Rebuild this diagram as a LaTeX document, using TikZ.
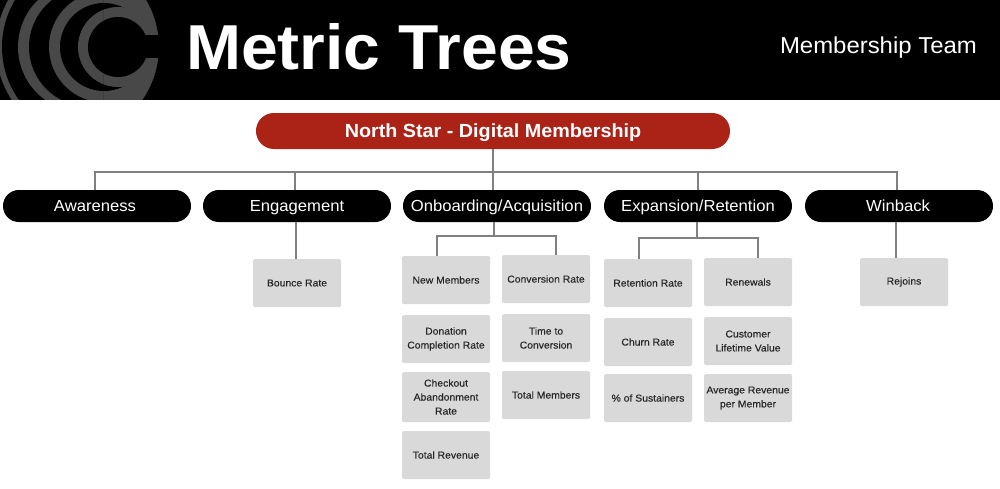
\documentclass[tikz,border=0pt]{standalone}
\usepackage{fontspec}
\setmainfont[FakeStretch=1.04]{Liberation Sans}
\newfontfamily\medfont[FakeStretch=1.04,FakeBold=0.25]{Liberation Sans}
\definecolor{logo}{HTML}{484848}
\definecolor{star}{HTML}{AB2217}
\definecolor{cell}{HTML}{D9D9D9}
\definecolor{wire}{HTML}{808080}
\tikzset{
 pill/.style={fill=black,text=white,rounded corners=15.9pt,minimum width=188pt,minimum height=32pt,inner sep=0pt,text height=14pt,text depth=3pt,font=\fontsize{16}{18}\selectfont},
 metric/.style={fill=cell,rounded corners=1.5pt,minimum width=88pt,minimum height=48pt,inner sep=1pt,align=center,text=black!85,font=\medfont\fontsize{10}{14}\selectfont},
 wirel/.style={draw=wire,line width=1.5pt}
}
\begin{document}
\begin{tikzpicture}[x=1pt,y=-1pt]
\useasboundingbox (0,0) rectangle (1000,488);
\fill[white] (0,0) rectangle (1000,488);
\begin{scope}
\clip (-1,-1) rectangle (180,99.6);
\fill[black] (-1,-1) rectangle (180,100);
\fill[logo] (93,47) circle[radius=97];
\fill[black] (93,47) circle[radius=91];
\fill[logo] (83,47) circle[radius=65];
\fill[black] (88.5,47) circle[radius=59.5];
\fill[logo] (104.5,47) circle[radius=55.5];
\fill[logo] (104,-2) rectangle (165,102);
\fill[black] (104,47) circle[radius=44];
\fill[logo] (118,47) circle[radius=40];
\fill[black] (118,47) circle[radius=30];
\fill[black] (140,35) rectangle (175,58);
\end{scope}
% everything of the header outside the logo's right edge
\begin{scope}
\clip (103,-1) rectangle (1001,99.6);
\fill[black,even odd rule] (103,-1) rectangle (1001,100) (66,47) circle[radius=93];
\end{scope}
\node[text=white,font=\bfseries\fontsize{63.5}{70}\selectfont,anchor=base west,inner sep=0pt] (title) at (186,69) {Metric Trees};
\node[text=white,font=\fontsize{23}{26}\selectfont,anchor=base east,inner sep=0pt] (team) at (977,53) {Membership Team};
\node[fill=star,text=white,rounded corners=17.9pt,minimum width=474pt,minimum height=36pt,inner sep=0pt,text height=16pt,text depth=4pt,font=\bfseries\fontsize{19}{22}\selectfont] (north) at (493,131) {North Star - Digital Membership};
\node[pill] (p1) at (97,206) {\kern-4pt Awareness};
\node[pill] (p2) at (297,206) {Engagement};
\node[pill] (p3) at (497,206) {Onboarding/Acquisition};
\node[pill] (p4) at (698,206) {Expansion/Retention};
\node[pill] (p5) at (899,206) {\kern-2pt Winback};
\node[metric] (bounce) at (297,283) {Bounce Rate};
\node[metric] (newm) at (446,280) {New Members};
\node[metric] (conv) at (546,279) {Conversion Rate};
\node[metric] (don) at (446,339) {Donation\\Completion Rate};
\node[metric] (time) at (546,338) {Time to\\Conversion};
\node[metric,minimum height=50pt] (check) at (446,397) {Checkout\\Abandonment\\Rate};
\node[metric] (totm) at (546,395) {Total Members};
\node[metric] (totr) at (446,455) {Total Revenue};
\node[metric] (ret) at (648,283) {Retention Rate};
\node[metric] (ren) at (748,282) {Renewals};
\node[metric] (churn) at (648,342) {Churn Rate};
\node[metric] (clv) at (748,341) {Customer\\Lifetime Value};
\node[metric] (sus) at (648,398) {\% of Sustainers};
\node[metric] (arpm) at (748,398) {Average Revenue\\per Member};
\node[metric] (rej) at (904,282) {Rejoins};
% junctions
\coordinate (bus) at (493,172);
\coordinate (busL) at (95,172);
\coordinate (busR) at (897,172);
\coordinate (bus2) at (295,172);
\coordinate (bus4) at (698,172);
\coordinate (onb) at (494,236);
\coordinate (onbL) at (437,236);
\coordinate (onbR) at (556,236);
\coordinate (exp) at (697,238);
\coordinate (expL) at (639,238);
\coordinate (expR) at (758,238);
\coordinate (engX) at (296,0);
\coordinate (rejX) at (896,0);
\draw[wirel] (bus |- north.south) -- (bus);
\draw[wirel] (busL |- p1.north) -- (busL) -- (busR) -- (busR |- p5.north);
\draw[wirel] (bus2) -- (bus2 |- p2.north);
\draw[wirel] (bus) -- (bus |- p3.north);
\draw[wirel] (bus4) -- (bus4 |- p4.north);
\draw[wirel] (engX |- p2.south) -- (engX |- bounce.north);
\draw[wirel] (onb |- p3.south) -- (onb);
\draw[wirel] (onbL |- newm.north) -- (onbL) -- (onbR) -- (onbR |- conv.north);
\draw[wirel] (exp |- p4.south) -- (exp);
\draw[wirel] (expL |- ret.north) -- (expL) -- (expR) -- (expR |- ren.north);
\draw[wirel] (rejX |- p5.south) -- (rejX |- rej.north);
\end{tikzpicture}
\end{document}
